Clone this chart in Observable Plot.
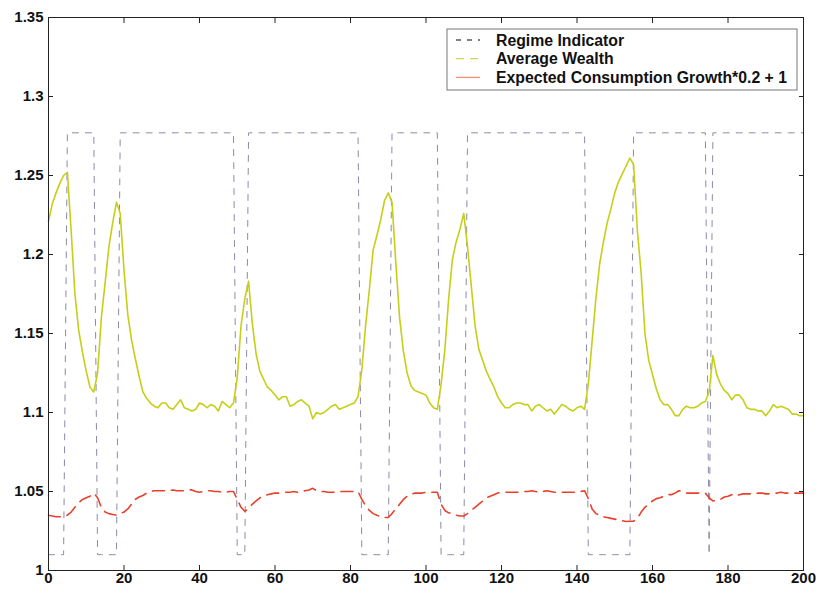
<!DOCTYPE html>
<html><head><meta charset="utf-8">
<script src="https://cdn.jsdelivr.net/npm/d3@7"></script>
<script src="https://cdn.jsdelivr.net/npm/@observablehq/plot@0.6"></script>
<style>
body{margin:0;background:#fff;}
#chart{position:relative;width:821px;height:598px;}
</style></head><body><div id="chart"></div>
<script>
// Average wealth, t = 0..200
const wealth = [
1.221,1.232,1.239,1.245,1.250,1.252,1.215,1.175,1.152,1.138,
1.126,1.116,1.113,1.125,1.160,1.182,1.205,1.220,1.233,1.226,
1.190,1.162,1.146,1.134,1.123,1.113,1.109,1.106,1.104,1.103,
1.106,1.106,1.103,1.102,1.105,1.108,1.103,1.102,1.101,1.102,
1.106,1.105,1.103,1.105,1.104,1.101,1.107,1.105,1.103,1.106,
1.122,1.155,1.172,1.183,1.156,1.137,1.126,1.121,1.116,1.114,
1.111,1.108,1.110,1.110,1.104,1.105,1.107,1.108,1.106,1.104,
1.096,1.100,1.099,1.100,1.102,1.104,1.105,1.102,1.103,1.104,
1.105,1.106,1.110,1.127,1.155,1.178,1.203,1.212,1.222,1.234,
1.239,1.233,1.195,1.160,1.139,1.125,1.117,1.114,1.113,1.112,
1.111,1.106,1.103,1.102,1.118,1.140,1.172,1.197,1.208,1.216,
1.226,1.205,1.180,1.155,1.140,1.133,1.126,1.121,1.116,1.110,
1.106,1.103,1.103,1.105,1.106,1.106,1.105,1.105,1.101,1.104,
1.105,1.103,1.101,1.102,1.099,1.102,1.105,1.104,1.102,1.101,
1.103,1.104,1.102,1.118,1.145,1.172,1.194,1.208,1.220,1.229,
1.239,1.246,1.251,1.256,1.261,1.257,1.215,1.188,1.150,1.133,
1.124,1.115,1.108,1.105,1.105,1.102,1.098,1.098,1.102,1.104,
1.103,1.103,1.104,1.106,1.107,1.113,1.136,1.124,1.118,1.114,
1.112,1.108,1.111,1.111,1.108,1.103,1.102,1.102,1.101,1.101,
1.098,1.101,1.105,1.103,1.104,1.103,1.102,1.099,1.099,1.098,
1.098];

// Expected consumption growth * 0.2 + 1, t = 0..200
const consumption = [
1.035,1.0345,1.034,1.034,1.034,1.035,1.037,1.040,1.043,1.045,
1.046,1.047,1.049,1.046,1.040,1.037,1.036,1.0355,1.035,1.036,
1.037,1.039,1.042,1.045,1.0465,1.0475,1.049,1.050,1.0505,1.0505,
1.0505,1.0505,1.0505,1.051,1.0505,1.0505,1.0505,1.051,1.051,1.050,
1.0495,1.050,1.0505,1.0505,1.050,1.050,1.0495,1.0495,1.050,1.050,
1.045,1.040,1.0375,1.039,1.042,1.044,1.046,1.047,1.048,1.0485,
1.049,1.049,1.0495,1.0495,1.0495,1.050,1.0495,1.050,1.0505,1.051,
1.052,1.0505,1.050,1.050,1.0495,1.0495,1.0495,1.050,1.050,1.050,
1.050,1.050,1.050,1.045,1.041,1.038,1.036,1.035,1.034,1.0335,
1.0335,1.036,1.039,1.042,1.045,1.047,1.048,1.049,1.049,1.049,
1.0495,1.0495,1.0495,1.0495,1.042,1.038,1.0365,1.036,1.035,1.0345,
1.0345,1.036,1.038,1.040,1.042,1.044,1.046,1.047,1.048,1.049,
1.0495,1.0495,1.0495,1.0495,1.0495,1.0495,1.050,1.050,1.0505,1.050,
1.0495,1.050,1.0505,1.050,1.0495,1.0495,1.0495,1.0495,1.0495,1.0495,
1.0495,1.050,1.0505,1.0455,1.039,1.036,1.035,1.034,1.0335,1.033,
1.0325,1.032,1.0315,1.031,1.0312,1.0312,1.033,1.037,1.040,1.042,
1.044,1.0455,1.046,1.047,1.048,1.048,1.049,1.0505,1.050,1.049,
1.049,1.049,1.049,1.049,1.049,1.046,1.044,1.0443,1.045,1.0465,
1.047,1.048,1.047,1.048,1.0485,1.0485,1.0485,1.0485,1.049,1.049,
1.0485,1.0485,1.049,1.049,1.0495,1.049,1.049,1.049,1.049,1.049,
1.049];

// Regime state (0 = low level, 1 = high level), t = 0..200
const regimeState = [
0,0,0,0,0,1,1,1,1,1, 1,1,1,0,0,0,0,0,0,1,
1,1,1,1,1,1,1,1,1,1, 1,1,1,1,1,1,1,1,1,1,
1,1,1,1,1,1,1,1,1,1, 0,0,0,1,1,1,1,1,1,1,
1,1,1,1,1,1,1,1,1,1, 1,1,1,1,1,1,1,1,1,1,
1,1,1,0,0,0,0,0,0,0, 0,1,1,1,1,1,1,1,1,1,
1,1,1,1,0,0,0,0,0,0, 0,1,1,1,1,1,1,1,1,1,
1,1,1,1,1,1,1,1,1,1, 1,1,1,1,1,1,1,1,1,1,
1,1,1,0,0,0,0,0,0,0, 0,0,0,0,0,1,1,1,1,1,
1,1,1,1,1,1,1,1,1,1, 1,1,1,1,1,0,1,1,1,1,
1,1,1,1,1,1,1,1,1,1, 1,1,1,1,1,1,1,1,1,1,
1];
const regimeLevels = [1.01, 1.277];

const xTicks = [0,20,40,60,80,100,120,140,160,180,200];
const yTicks = [1,1.05,1.1,1.15,1.2,1.25,1.3,1.35];
const seriesNames = ["Regime Indicator","Average Wealth","Expected Consumption Growth*0.2 + 1"];

const regimeRows = regimeState.map((s,i)=>({t:i, v:regimeLevels[s]}));
const wealthRows = wealth.map((v,i)=>({t:i, v}));
const consRows = consumption.map((v,i)=>({t:i, v}));

const axisColor = "#222";
const plot = Plot.plot({
  width: 821, height: 598,
  marginLeft: 48, marginRight: 18, marginTop: 17, marginBottom: 28,
  x: {domain: [0, 200]},
  y: {domain: [1, 1.35]},
  style: {fontFamily: "'Liberation Sans', Arial, sans-serif", fontSize: "15px", fontWeight: "bold", color: "#111", background: "#fff"},
  marks: [
    Plot.line(regimeRows, {x: "t", y: "v", stroke: "#8a8aae", strokeWidth: 1, strokeDasharray: "6,7"}),
    Plot.line(wealthRows, {x: "t", y: "v", stroke: "#c6cf18", strokeWidth: 1.6}),
    Plot.line(consRows, {x: "t", y: "v", stroke: "#e8412b", strokeWidth: 1.6, strokeDasharray: "12,7"}),
    Plot.axisX({ticks: xTicks, tickSize: -5, tickPadding: 7, label: null, stroke: axisColor, fill: "#111"}),
    Plot.axisX({anchor: "top", ticks: xTicks, tickSize: -5, tickFormat: () => "", label: null, stroke: axisColor}),
    Plot.axisY({ticks: yTicks, tickSize: -5, tickPadding: 10, tickFormat: d => String(d), label: null, stroke: axisColor, fill: "#111"}),
    Plot.axisY({anchor: "right", ticks: yTicks, tickSize: -5, tickFormat: () => "", label: null, stroke: axisColor}),
    Plot.frame({stroke: axisColor, strokeWidth: 1})
  ]
});
document.getElementById("chart").appendChild(plot);

// Legend box (top right)
const svg = d3.select(plot);
const lg = svg.append("g")
  .attr("font-family", "'Liberation Sans', Arial, sans-serif")
  .attr("font-size", 15.8).attr("font-weight", "bold")
  .attr("text-anchor", "start");
lg.append("rect").attr("x", 447).attr("y", 29).attr("width", 350).attr("height", 61)
  .attr("fill", "#fff").attr("stroke", "#777").attr("stroke-width", 1);
const sampleStyles = [
  {stroke: "#555", dash: "5,6"},
  {stroke: "#d2d25a", dash: "8,6"},
  {stroke: "#f09070", dash: null}
];
seriesNames.forEach((name, i) => {
  const cy = 40 + i * 18.7;
  const l = lg.append("line").attr("x1", 456).attr("x2", 480).attr("y1", cy).attr("y2", cy)
    .attr("stroke", sampleStyles[i].stroke).attr("stroke-width", 1.3);
  if (sampleStyles[i].dash) l.attr("stroke-dasharray", sampleStyles[i].dash);
  lg.append("text").attr("x", 496).attr("y", cy).attr("dy", "0.36em")
    .attr("text-anchor", "start").attr("fill", "#111").text(name);
});
</script></body></html>
